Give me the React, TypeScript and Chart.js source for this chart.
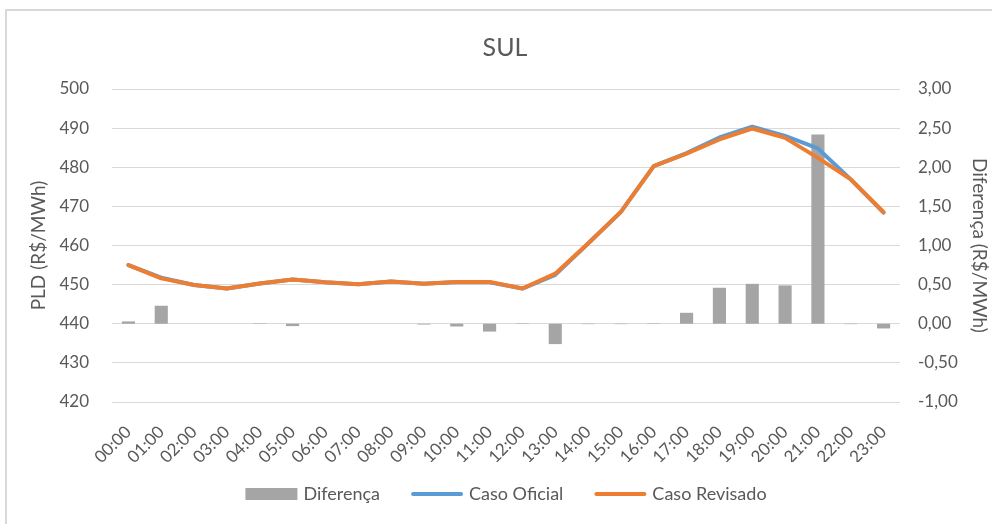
import React, { useEffect, useRef } from "react";
import { Chart, registerables } from "chart.js";

Chart.register(...registerables);

const categories = ["00:00","01:00","02:00","03:00","04:00","05:00","06:00","07:00","08:00","09:00","10:00","11:00","12:00","13:00","14:00","15:00","16:00","17:00","18:00","19:00","20:00","21:00","22:00","23:00"];
const casoOficial = [455.0, 451.8, 449.9, 449.0, 450.3, 451.3, 450.6, 450.1, 450.8, 450.2, 450.7, 450.6, 449.0, 452.5, 460.5, 468.6, 480.3, 483.6, 487.6, 490.4, 488.0, 484.8, 476.9, 468.4];
const casoRevisado = [455.0, 451.6, 449.9, 449.0, 450.3, 451.3, 450.6, 450.1, 450.8, 450.2, 450.7, 450.7, 449.0, 452.8, 460.5, 468.6, 480.3, 483.5, 487.1, 489.9, 487.5, 482.4, 476.9, 468.5];
const diferenca = [0.03, 0.23, 0, 0, 0.005, -0.03, 0, 0, 0, -0.01, -0.035, -0.1, 0.005, -0.26, -0.005, -0.005, 0.005, 0.14, 0.46, 0.51, 0.49, 2.42, -0.005, -0.06];

const seriesNames = ["Diferença", "Caso Oficial", "Caso Revisado"];
const leftTitle = "PLD (R$/MWh)";
const rightTitle = "Diferença (R$/MWh)";
const chartTitle = "SUL";

const GRAY = "#A5A5A5";
const BLUE = "#5B9BD5";
const ORANGE = "#ED7D31";
const TEXT = "#595959";
const FONT = "Lato";

const framePlugin = {
  id: "frame",
  beforeDraw(chart: any) {
    const ctx = chart.ctx;
    ctx.save();
    ctx.fillStyle = "#ffffff";
    ctx.fillRect(0, 0, chart.width, chart.height);
    ctx.strokeStyle = "#d9d9d9";
    ctx.lineWidth = 2;
    ctx.strokeRect(6, 10, chart.width + 20, chart.height + 20);
    ctx.restore();
  },
};

const legendPlugin = {
  id: "customLegend",
  afterDraw(chart: any) {
    const ctx = chart.ctx;
    ctx.save();
    ctx.font = `18px ${FONT}`;
    const boxW = 52;
    const gapText = 6;
    const gapItem = 31;
    const widths = seriesNames.map((t) => ctx.measureText(t).width);
    const total = widths.reduce((a, w) => a + boxW + gapText + w, 0) + gapItem * (seriesNames.length - 1);
    const cx = (chart.chartArea.left + chart.chartArea.right) / 2;
    let x = cx - total / 2;
    const y = 494;
    const colors = [GRAY, BLUE, ORANGE];
    seriesNames.forEach((t, i) => {
      if (i === 0) {
        ctx.fillStyle = colors[i];
        ctx.fillRect(x, y - 6, boxW, 12);
      } else {
        ctx.strokeStyle = colors[i];
        ctx.lineWidth = 4;
        ctx.lineCap = "round";
        ctx.beginPath();
        ctx.moveTo(x + 2, y);
        ctx.lineTo(x + boxW - 2, y);
        ctx.stroke();
      }
      ctx.fillStyle = TEXT;
      ctx.textBaseline = "middle";
      ctx.textAlign = "left";
      ctx.fillText(t, x + boxW + gapText, y);
      x += boxW + gapText + widths[i] + gapItem;
    });
    ctx.restore();
  },
};

export default function App() {
  const ref = useRef<HTMLCanvasElement | null>(null);
  useEffect(() => {
    if (!ref.current) return;
    const chart = new Chart(ref.current, {
      type: "bar",
      data: {
        labels: categories,
        datasets: [
          {
            type: "bar",
            label: seriesNames[0],
            data: diferenca,
            backgroundColor: GRAY,
            yAxisID: "y1",
            barPercentage: 0.4,
            categoryPercentage: 1,
            order: 3,
          } as any,
          {
            type: "line",
            label: seriesNames[1],
            data: casoOficial,
            borderColor: BLUE,
            backgroundColor: BLUE,
            borderWidth: 4,
            pointRadius: 0,
            tension: 0,
            borderJoinStyle: "round",
            borderCapStyle: "round",
            yAxisID: "y",
            order: 2,
          } as any,
          {
            type: "line",
            label: seriesNames[2],
            data: casoRevisado,
            borderColor: ORANGE,
            backgroundColor: ORANGE,
            borderWidth: 4,
            pointRadius: 0,
            tension: 0,
            borderJoinStyle: "round",
            borderCapStyle: "round",
            yAxisID: "y",
            order: 1,
          } as any,
        ],
      },
      options: {
        responsive: false,
        animation: false,
        layout: { padding: { left: 18, right: 0, top: 0, bottom: 62 } },
        plugins: {
          legend: { display: false },
          tooltip: { enabled: false },
          title: {
            display: true,
            text: chartTitle,
            color: TEXT,
            font: { family: FONT, size: 25, weight: "normal" },
            padding: { top: 33, bottom: 26 },
          },
        },
        scales: {
          x: {
            offset: true,
            grid: { display: false },
            border: { display: false },
            ticks: {
              color: TEXT,
              font: { family: FONT, size: 17 },
              maxRotation: 45,
              minRotation: 45,
              padding: 12,
              autoSkip: false,
            },
            afterFit: (s: any) => {
              s.height = 60;
            },
          },
          y: {
            position: "left",
            min: 420,
            max: 500,
            ticks: {
              stepSize: 10,
              color: TEXT,
              font: { family: FONT, size: 17 },
              padding: 23,
            },
            grid: { color: "#d9d9d9", lineWidth: 1, drawTicks: false },
            border: { display: false },
            title: {
              display: true,
              text: leftTitle,
              color: TEXT,
              font: { family: FONT, size: 19 },
              padding: { top: 9, bottom: 0 },
            },
            afterFit: (s: any) => {
              s.width = 94;
            },
          },
          y1: {
            position: "right",
            min: -1,
            max: 3,
            ticks: {
              stepSize: 0.5,
              color: TEXT,
              font: { family: FONT, size: 17 },
              padding: 18,
              callback: (v: any) => Number(v).toFixed(2).replace(".", ","),
            },
            grid: { display: false, drawTicks: false },
            border: { display: false },
            title: {
              display: true,
              text: rightTitle,
              color: TEXT,
              font: { family: FONT, size: 19 },
              padding: { top: 1, bottom: 0 },
            },
            afterFit: (s: any) => {
              s.width = 92;
            },
          },
        },
      } as any,
      plugins: [framePlugin, legendPlugin],
    });
    return () => chart.destroy();
  }, []);
  return (
    <div style={{ position: "fixed", left: 0, top: 0, width: 992, height: 524 }}>
      <canvas ref={ref} width={992} height={524} style={{ width: 992, height: 524, display: "block" }} />
    </div>
  );
}
